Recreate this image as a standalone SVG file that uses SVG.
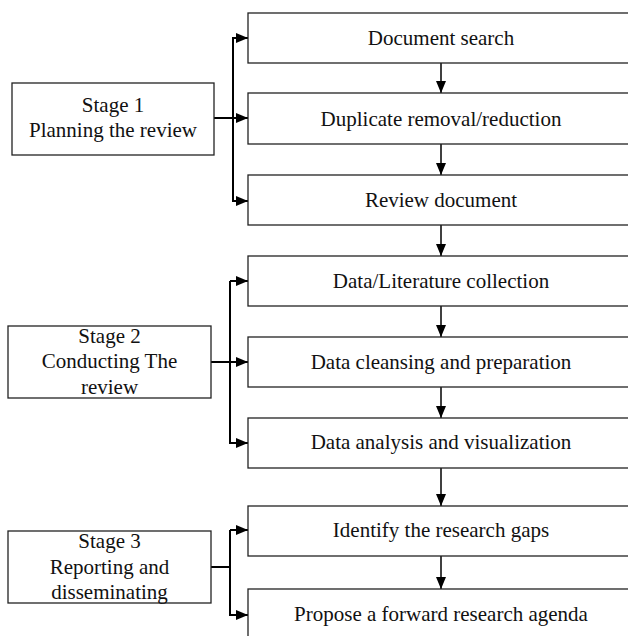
<svg xmlns="http://www.w3.org/2000/svg" width="628" height="636" viewBox="0 0 628 636" font-family="Liberation Serif, serif">
<style>
.box{fill:#fff;stroke:#222;stroke-width:1.3}
.t{font-family:Liberation Serif,serif;font-size:21px;fill:#111;text-anchor:middle}
.ln{fill:none;stroke:#000;stroke-width:2}
.vl{fill:none;stroke:#000;stroke-width:1.5}
</style>
<defs>
<marker id="ah" viewBox="0 0 12 10" refX="12" refY="5" markerWidth="12" markerHeight="10" markerUnits="userSpaceOnUse" orient="auto">
<path d="M0,0 L12,5 L0,10 Z" fill="#000"/>
</marker>
</defs>
<rect width="628" height="636" fill="#fff"/>
<g id="connectors">
<path class="ln" d="M214,118 H233"/>
<path class="ln" d="M248,38 H233 V201 H248" marker-end="url(#ah)"/>
<path class="ln" d="M233,38 H248" marker-end="url(#ah)"/>
<path class="ln" d="M233,118 H248" marker-end="url(#ah)"/>
<path class="ln" d="M211,362 H230"/>
<path class="ln" d="M230,281 V443 H248" marker-end="url(#ah)"/>
<path class="ln" d="M230,281 H248" marker-end="url(#ah)"/>
<path class="ln" d="M230,362 H248" marker-end="url(#ah)"/>
<path class="ln" d="M211,567 H230"/>
<path class="ln" d="M230,530 V615 H248" marker-end="url(#ah)"/>
<path class="ln" d="M230,530 H248" marker-end="url(#ah)"/>
<path class="vl" d="M441,63 V93" marker-end="url(#ah)"/>
<path class="vl" d="M441,144 V175" marker-end="url(#ah)"/>
<path class="vl" d="M441,225 V256" marker-end="url(#ah)"/>
<path class="vl" d="M441,306 V337" marker-end="url(#ah)"/>
<path class="vl" d="M441,387 V418" marker-end="url(#ah)"/>
<path class="vl" d="M441,468 V506" marker-end="url(#ah)"/>
<path class="vl" d="M441,556 V589" marker-end="url(#ah)"/>
</g>
<g id="stage1"><rect class="box" x="12" y="83" width="202" height="72"/><text class="t" x="113" y="112">Stage 1</text><text class="t" x="113" y="137">Planning the review</text></g>
<g id="stage2"><rect class="box" x="8" y="326" width="203" height="72"/><text class="t" x="109.5" y="343">Stage 2</text><text class="t" x="109.5" y="368">Conducting The</text><text class="t" x="109.5" y="394">review</text></g>
<g id="stage3"><rect class="box" x="8" y="531" width="203" height="72"/><text class="t" x="109.5" y="548">Stage 3</text><text class="t" x="109.5" y="574">Reporting and</text><text class="t" x="109.5" y="599">disseminating</text></g>
<g id="n1"><rect class="box" x="248" y="13" width="400" height="50"/><text class="t" x="441" y="45">Document search</text></g>
<g id="n2"><rect class="box" x="248" y="93" width="400" height="51"/><text class="t" x="441" y="126">Duplicate removal/reduction</text></g>
<g id="n3"><rect class="box" x="248" y="175" width="400" height="50"/><text class="t" x="441" y="207">Review document</text></g>
<g id="n4"><rect class="box" x="248" y="256" width="400" height="50"/><text class="t" x="441" y="288">Data/Literature collection</text></g>
<g id="n5"><rect class="box" x="248" y="337" width="400" height="50"/><text class="t" x="441" y="369">Data cleansing and preparation</text></g>
<g id="n6"><rect class="box" x="248" y="418" width="400" height="50"/><text class="t" x="441" y="449">Data analysis and visualization</text></g>
<g id="n7"><rect class="box" x="248" y="506" width="400" height="50"/><text class="t" x="441" y="537">Identify the research gaps</text></g>
<g id="n8"><rect class="box" x="248" y="589" width="400" height="60"/><text class="t" x="441" y="621">Propose a forward research agenda</text></g>
</svg>
